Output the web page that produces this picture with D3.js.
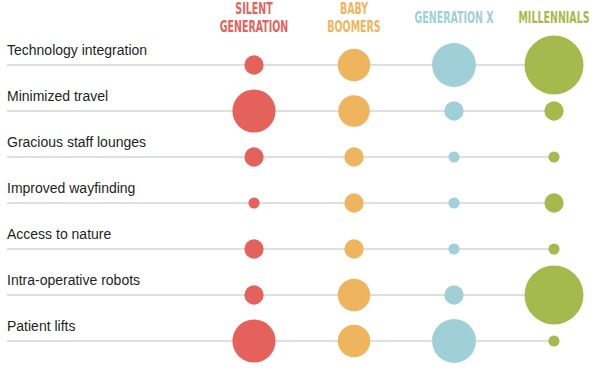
<!DOCTYPE html>
<html>
<head>
<meta charset="utf-8">
<script src="https://cdn.jsdelivr.net/npm/d3@7"></script>
<style>
  html, body { margin: 0; padding: 0; background: #fff; }
  svg { display: block; }
</style>
</head>
<body>
<div id="chart"></div>
<script>
const categories = [
  "Technology integration",
  "Minimized travel",
  "Gracious staff lounges",
  "Improved wayfinding",
  "Access to nature",
  "Intra-operative robots",
  "Patient lifts"
];
const generations = [["SILENT", "GENERATION"], ["BABY", "BOOMERS"], ["GENERATION X"], ["MILLENNIALS"]];
const colors = ["#e4625b", "#efb55e", "#9fcfd7", "#a6b94c"];
const silent     = [6, 30, 6, 2, 6, 6, 30];
const boomers    = [17, 16, 6, 6, 6, 17, 17];
const genX       = [31, 6, 2, 2, 2, 6, 31];
const millennials = [56, 6, 2, 6, 2, 56, 2];
const series = [silent, boomers, genX, millennials];

const W = 605, H = 375;
const svg = d3.select("#chart").append("svg").attr("width", W).attr("height", H);

const x = d3.scalePoint().domain(d3.range(generations.length)).range([254, 554]);
const y = d3.scalePoint().domain(categories).range([65, 341]);
const r = d3.scaleSqrt().domain([0, 56]).range([0, 29.5]);

// header (condensed by horizontal scaling)
generations.forEach((g, i) => {
  const t = svg.append("text")
    .attr("transform", `translate(${x(i)},0) scale(0.68,1)`)
    .attr("text-anchor", "middle")
    .attr("fill", colors[i])
    .style("font-family", "'DejaVu Sans Condensed', 'DejaVu Sans', sans-serif")
    .style("font-weight", "bold")
    .style("font-size", "15.5px");
  if (g.length === 2) {
    t.append("tspan").attr("x", 0).attr("y", 14.5).text(g[0]);
    t.append("tspan").attr("x", 0).attr("y", 32.5).text(g[1]);
  } else {
    t.append("tspan").attr("x", 0).attr("y", 23.5).text(g[0]);
  }
});

const rows = svg.selectAll("g.row").data(categories).join("g").attr("class", "row");
rows.append("line")
  .attr("x1", 7).attr("x2", x(3))
  .attr("y1", d => y(d)).attr("y2", d => y(d))
  .attr("stroke", "#d4d4d4").attr("stroke-width", 1.5);
rows.append("text")
  .attr("x", 7).attr("y", d => y(d) - 10.5)
  .attr("fill", "#231f20")
  .style("font-family", "'Liberation Sans', Arial, sans-serif")
  .style("font-size", "14px")
  .text(d => d);

series.forEach((vals, si) => {
  svg.append("g").selectAll("circle").data(vals).join("circle")
    .attr("cx", x(si))
    .attr("cy", (v, i) => y(categories[i]))
    .attr("r", v => r(v))
    .attr("fill", colors[si]);
});
</script>
</body>
</html>
